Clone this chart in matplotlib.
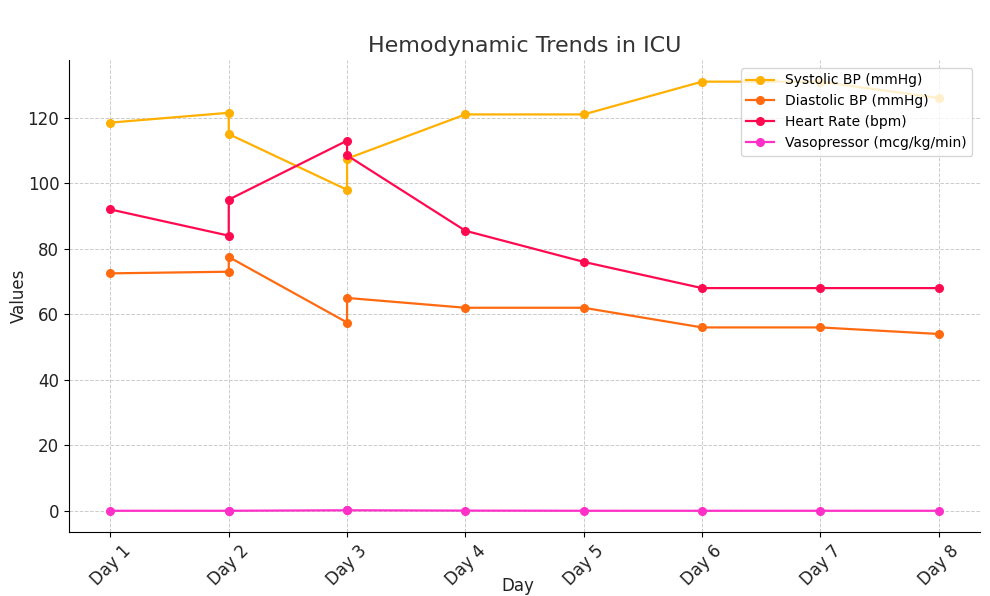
import matplotlib
matplotlib.use("Agg")
import matplotlib.pyplot as plt

# days (some days have two readings)
days = ["Day 1", "Day 2", "Day 2", "Day 3", "Day 3", "Day 4", "Day 5", "Day 6", "Day 7", "Day 8"]
day_labels = ["Day 1", "Day 2", "Day 3", "Day 4", "Day 5", "Day 6", "Day 7", "Day 8"]

systolic = [118.5, 121.5, 115, 98, 107.5, 121, 121, 131, 131, 126]
diastolic = [72.5, 73, 77.5, 57.5, 65, 62, 62, 56, 56, 54]
heart_rate = [92, 84, 95, 113, 108.5, 85.5, 76, 68, 68, 68]
vasopressor = [0.05, 0.05, 0.05, 0.2, 0.2, 0.1, 0.05, 0.05, 0.05, 0.05]

x = [day_labels.index(d) for d in days]

fig, ax = plt.subplots(figsize=(9.9, 5.96), dpi=100)
fig.subplots_adjust(left=0.0697, right=0.99, top=0.899, bottom=0.107)

ax.plot(x, systolic, marker="o", color="#FFB000", lw=1.6, ms=5.5, label="Systolic BP (mmHg)")
ax.plot(x, diastolic, marker="o", color="#FF6A10", lw=1.6, ms=5.5, label="Diastolic BP (mmHg)")
ax.plot(x, heart_rate, marker="o", color="#FF0A50", lw=1.6, ms=5.5, label="Heart Rate (bpm)")
ax.plot(x, vasopressor, marker="o", color="#FF30C8", lw=1.6, ms=5.5, label="Vasopressor (mcg/kg/min)")

ax.set_xticks(range(len(day_labels)))
ax.set_xticklabels(day_labels, rotation=45, fontsize=12, color="#222222")
ax.tick_params(axis="y", labelsize=12, labelcolor="#222222")
ax.set_title("Hemodynamic Trends in ICU", fontsize=16, color="#333333")
ax.set_ylabel("Values", fontsize=12, color="#222222", labelpad=0)
# x label sits at the very bottom edge, as in the reference
fig.text(0.5235, 0.001, "Day", fontsize=12, color="#222222", ha="center", va="bottom")
ax.grid(True, linestyle="--", color="#cccccc", lw=0.7)
ax.spines["top"].set_visible(False)
ax.spines["right"].set_visible(False)
ax.legend(loc="upper right", fontsize=10, borderaxespad=0.55)

plt.savefig("out.png")
